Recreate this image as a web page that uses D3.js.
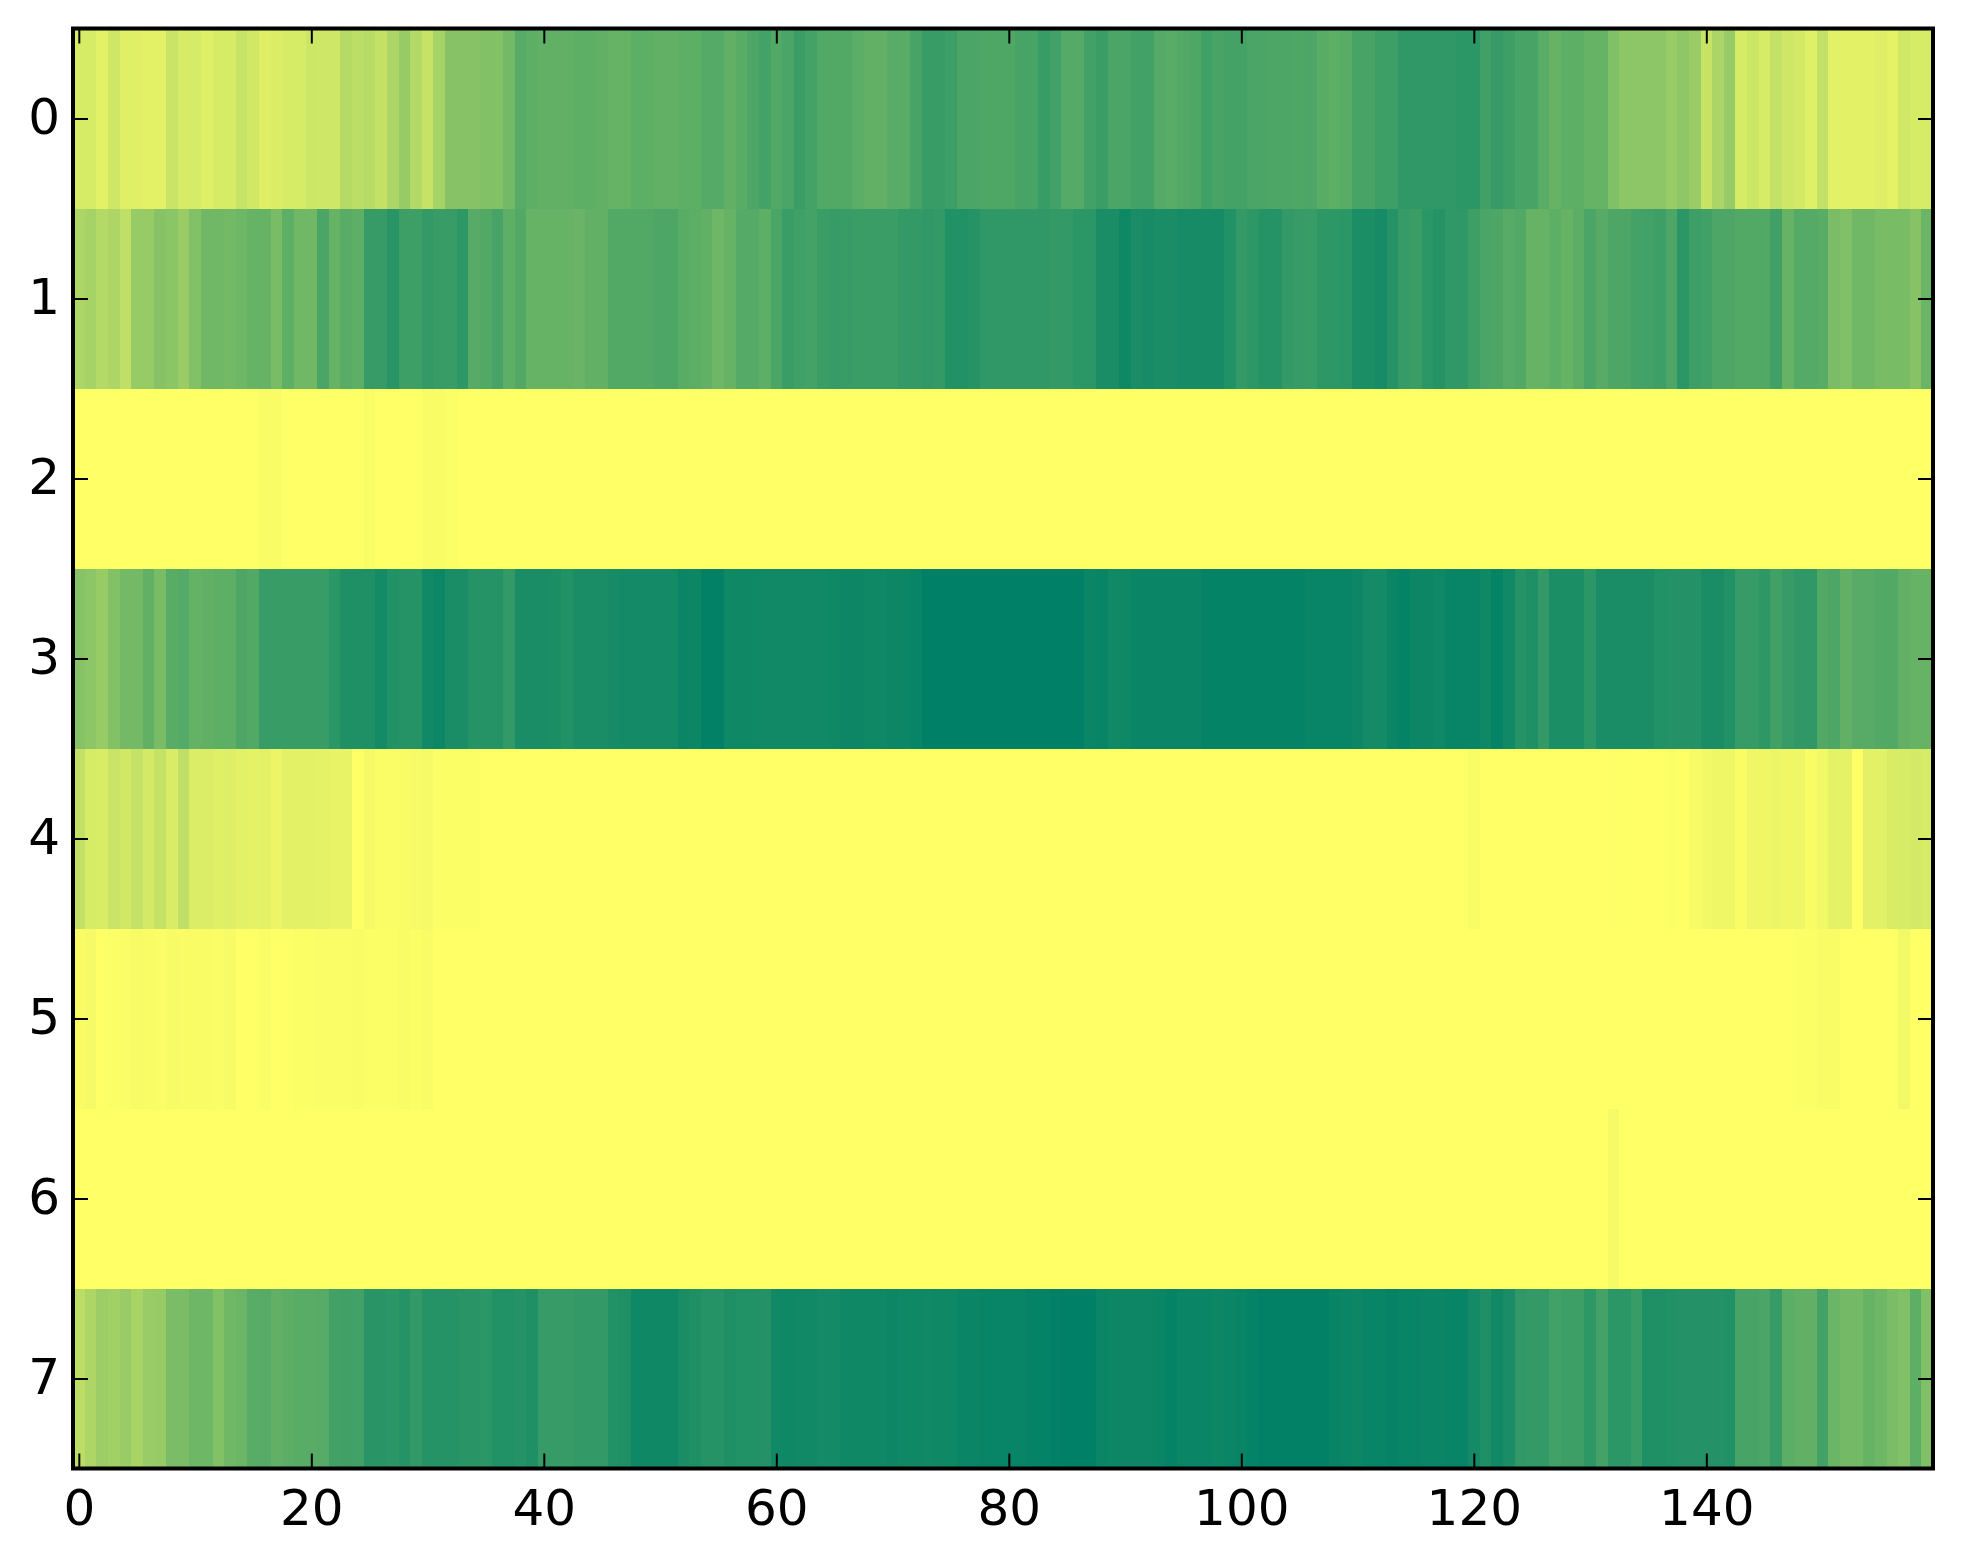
<!DOCTYPE html>
<html>
<head>
<meta charset="utf-8">
<script src="https://d3js.org/d3.v7.min.js"></script>
<style>
  html, body { margin: 0; padding: 0; background: #fff; }
  svg { display: block; }
  text { font-family: "DejaVu Sans", sans-serif; font-size: 50px; fill: #000; }
</style>
</head>
<body>
<div id="chart"></div>
<script>
const xTicks = [0, 20, 40, 60, 80, 100, 120, 140];
const yTicks = [0, 1, 2, 3, 4, 5, 6, 7];

// 0 = yellow end, 1 = dark green end
const row0 = [
  .16,.16,.11,.19,.12,.12,.11,.11,.21,.16,.16,.12,.16,.16,.22,.18,.13,.14,.16,.16,
  .2,.19,.19,.29,.26,.28,.24,.32,.41,.3,.22,.35,.47,.47,.47,.49,.49,.55,.66,.63,
  .62,.62,.62,.63,.63,.62,.6,.6,.63,.63,.62,.62,.63,.63,.67,.67,.62,.65,.7,.73,
  .68,.71,.77,.73,.68,.68,.68,.64,.62,.62,.65,.65,.72,.78,.78,.76,.71,.71,.69,.69,
  .69,.72,.72,.78,.74,.67,.67,.74,.77,.71,.71,.74,.74,.67,.65,.68,.69,.75,.72,.73,
  .73,.71,.71,.7,.7,.69,.7,.65,.63,.65,.72,.72,.76,.76,.81,.81,.81,.81,.81,.83,
  .83,.75,.79,.76,.72,.72,.65,.6,.63,.63,.6,.6,.5,.45,.45,.45,.45,.4,.44,.4,
  .22,.33,.41,.16,.2,.16,.24,.19,.17,.12,.24,.11,.11,.11,.11,.13,.1,.18,.16,.16
];
const row1 = [
  .32,.35,.3,.32,.25,.41,.41,.47,.46,.4,.49,.56,.56,.55,.57,.6,.6,.53,.63,.56,
  .56,.71,.6,.65,.63,.79,.79,.84,.76,.76,.8,.78,.78,.82,.66,.68,.72,.63,.68,.6,
  .6,.6,.6,.59,.62,.62,.68,.68,.68,.68,.7,.7,.65,.64,.62,.57,.6,.67,.67,.63,
  .71,.77,.75,.73,.77,.79,.78,.77,.77,.77,.77,.8,.8,.81,.8,.87,.87,.85,.81,.81,
  .81,.81,.81,.81,.8,.8,.83,.83,.9,.9,.94,.9,.91,.9,.9,.91,.91,.91,.91,.87,
  .8,.82,.85,.85,.8,.79,.78,.82,.82,.83,.89,.89,.91,.85,.79,.77,.83,.85,.81,.81,
  .76,.71,.7,.66,.68,.6,.6,.63,.6,.64,.71,.66,.7,.7,.73,.74,.76,.7,.83,.76,
  .75,.7,.7,.68,.68,.68,.75,.6,.67,.67,.65,.52,.5,.56,.56,.53,.53,.53,.47,.58
];
const row2 = [
  0,0,0,0,0,0,0,0,0,0,0,0,0,0,0,0,.02,.02,0,0,
  0,0,0,0,0,.02,0,0,0,0,.02,.02,.01,0,0,0,0,0,0,0,
  0,0,0,0,0,0,0,0,0,0,0,0,0,0,0,0,0,0,0,0,
  0,0,0,0,0,0,0,0,0,0,0,0,0,0,0,0,0,0,0,0,
  0,0,0,0,0,0,0,0,0,0,0,0,0,0,0,0,0,0,0,0,
  0,0,0,0,0,0,0,0,0,0,0,0,0,0,0,0,0,0,0,0,
  0,0,0,0,0,0,0,0,0,0,0,0,0,0,0,0,0,0,0,0,
  0,0,0,0,0,0,0,0,0,0,0,0,0,0,0,0,0,0,0,0
];
const row3 = [
  .47,.45,.41,.49,.55,.55,.62,.53,.65,.67,.61,.62,.63,.63,.7,.68,.78,.78,.78,.78,
  .78,.78,.83,.88,.88,.88,.92,.87,.85,.85,.93,.95,.9,.9,.85,.85,.85,.8,.9,.9,
  .9,.89,.87,.9,.9,.9,.91,.92,.92,.92,.92,.92,.96,.95,.99,.99,.94,.94,.94,.93,
  .93,.93,.93,.93,.93,.94,.95,.95,.94,.94,.95,.95,.97,1,1,1,1,1,1,1,
  1,1,1,1,1,1,1,.96,.97,.93,.94,.96,.96,.96,.96,.96,.96,.98,.98,.98,
  .98,.98,.98,.98,.98,.98,.97,.97,.97,.97,.95,.92,.92,.96,.98,.95,.95,.94,.97,.97,
  .97,.94,.98,.93,.85,.88,.8,.89,.89,.89,.83,.9,.9,.9,.9,.9,.87,.86,.86,.86,
  .9,.9,.87,.79,.79,.82,.75,.79,.81,.81,.68,.7,.62,.66,.66,.68,.68,.62,.6,.6
];
const row4 = [
  .24,.16,.15,.21,.18,.23,.17,.23,.15,.25,.14,.14,.12,.13,.11,.1,.11,.08,.11,.11,
  .11,.1,.09,.09,0,.04,.015,.015,.02,.03,.04,.01,.01,.01,.01,0,0,0,0,0,
  0,0,0,0,0,0,0,0,0,0,0,0,0,0,0,0,0,0,0,0,
  0,0,0,0,0,0,0,0,0,0,0,0,0,0,0,0,0,0,0,0,
  0,0,0,0,0,0,0,0,0,0,0,0,0,0,0,0,0,0,0,0,
  0,0,0,0,0,0,0,0,0,0,0,0,0,0,0,0,0,0,0,0,
  .02,0,0,0,0,0,0,0,0,0,0,0,.005,.005,0,0,0,.01,0,.03,
  .05,.06,.06,.02,.06,.06,.07,.06,.06,.02,.05,.1,.1,0,.11,.11,.15,.16,.17,.16
];
const row5 = [
  .02,.04,0,.01,.015,.03,.02,.015,.03,.02,.02,.02,.015,.03,0,0,.015,0,0,.01,
  .01,.015,.015,.015,.02,.01,.01,.01,.02,.01,.02,0,0,0,0,0,0,0,0,0,
  0,0,0,0,0,0,0,0,0,0,0,0,0,0,0,0,0,0,0,0,
  0,0,0,0,0,0,0,0,0,0,0,0,0,0,0,0,0,0,0,0,
  0,0,0,0,0,0,0,0,0,0,0,0,0,0,0,0,0,0,0,0,
  0,0,0,0,0,0,0,0,0,0,0,0,0,0,0,0,0,0,0,0,
  0,0,0,0,0,0,0,0,0,0,0,0,0,0,0,0,0,0,0,0,
  0,0,0,0,0,0,0,0,.01,.01,.02,.02,0,0,0,0,0,.05,0,0
];
const row6 = [
  0,0,0,0,0,0,0,0,0,0,0,0,0,0,0,0,0,0,0,0,
  0,0,0,0,0,0,0,0,0,0,0,0,0,0,0,0,0,0,0,0,
  0,0,0,0,0,0,0,0,0,0,0,0,0,0,0,0,0,0,0,0,
  0,0,0,0,0,0,0,0,0,0,0,0,0,0,0,0,0,0,0,0,
  0,0,0,0,0,0,0,0,0,0,0,0,0,0,0,0,0,0,0,0,
  0,0,0,0,0,0,0,0,0,0,0,0,0,0,0,0,0,0,0,0,
  0,0,0,0,0,0,0,0,0,0,0,0,.04,0,0,0,0,0,0,0,
  0,0,0,0,0,0,0,0,0,0,0,0,0,0,0,0,0,0,0,0
];
const row7 = [
  .26,.32,.39,.37,.4,.34,.4,.41,.52,.52,.57,.57,.49,.56,.58,.65,.66,.62,.64,.65,
  .65,.66,.74,.75,.74,.84,.84,.83,.85,.8,.85,.85,.85,.84,.84,.83,.87,.87,.85,.88,
  .79,.79,.79,.8,.8,.8,.87,.88,.94,.94,.94,.94,.9,.88,.85,.85,.88,.87,.87,.86,
  .93,.94,.93,.93,.92,.92,.94,.94,.94,.94,.95,.94,.94,.93,.94,.94,.96,.96,.97,.97,
  .97,.97,.98,.98,.99,1,1,1,.96,.95,.95,.95,.95,.96,.98,.96,.96,.96,.95,.96,
  .97,.98,.99,.99,.99,.99,.99,.99,.97,.96,.95,.97,.97,.98,.97,.97,.96,.96,.97,.97,
  .92,.88,.93,.9,.81,.8,.8,.74,.76,.76,.82,.73,.83,.83,.78,.88,.88,.87,.86,.86,
  .86,.86,.87,.72,.72,.71,.79,.64,.62,.62,.73,.58,.55,.55,.6,.57,.52,.5,.63,.5
];

const rows = [row0, row1, row2, row3, row4, row5, row6, row7];

const margin = { top: 28.5, right: 30, bottom: 95.5, left: 73 };
const width = 1963 - margin.left - margin.right;
const height = 1564 - margin.top - margin.bottom;

const svg = d3.select("#chart")
  .append("svg")
  .attr("width", 1963)
  .attr("height", 1564)
  .append("g")
  .attr("transform", `translate(${margin.left},${margin.top})`);

// image extent: cells are centred on their index
const x = d3.scaleLinear().domain([-0.5, 159.5]).range([0, width]);
const y = d3.scaleLinear().domain([-0.5, 7.5]).range([0, height]);

// summer_r
const color = d3.scaleLinear().domain([0, 1]).range(["#ffff66", "#008066"]);

const cells = rows.flatMap((values, r) => values.map((v, c) => ({ r, c, v })));

svg.selectAll("rect.cell")
  .data(cells)
  .join("rect")
  .attr("class", "cell")
  .attr("x", d => x(d.c - 0.5))
  .attr("y", d => y(d.r - 0.5))
  .attr("width", d => x(d.c + 0.5) - x(d.c - 0.5) + 0.5)
  .attr("height", d => y(d.r + 0.5) - y(d.r - 0.5))
  .attr("fill", d => color(d.v))
  .attr("shape-rendering", "crispEdges");

const tickLen = -15;

svg.append("g")
  .attr("transform", `translate(0,${height})`)
  .call(d3.axisBottom(x).tickValues(xTicks).tickSize(tickLen).tickPadding(20.5).tickFormat(d3.format("d")));

svg.append("g")
  .call(d3.axisTop(x).tickValues(xTicks).tickSize(tickLen).tickFormat(""));

svg.append("g")
  .call(d3.axisLeft(y).tickValues(yTicks).tickSize(tickLen).tickPadding(13).tickFormat(d3.format("d")));

svg.append("g")
  .attr("transform", `translate(${width},0)`)
  .call(d3.axisRight(y).tickValues(yTicks).tickSize(tickLen).tickFormat(""));

svg.selectAll(".tick line").attr("stroke", "#000").attr("stroke-width", 2);
svg.selectAll(".domain").remove();
svg.selectAll(".tick text").style("font-size", "50px").style("font-family", '"DejaVu Sans", sans-serif').attr("fill", "#000");
// y labels sit a little above their ticks
svg.selectAll(".tick text").filter(function () { return this.getAttribute("dy") === "0.32em"; }).attr("dy", "0.29em");

// frame
svg.append("rect")
  .attr("width", width)
  .attr("height", height)
  .attr("fill", "none")
  .attr("stroke", "#000")
  .attr("stroke-width", 4);
</script>
</body>
</html>
